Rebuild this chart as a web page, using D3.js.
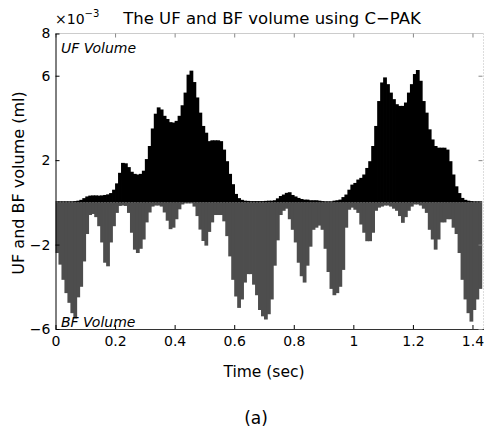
<!DOCTYPE html>
<html>
<head>
<meta charset="utf-8">
<script src="https://cdn.jsdelivr.net/npm/d3@7"></script>
<style>
  body { margin: 0; background: #fff; }
  text { font-family: "DejaVu Sans", sans-serif; fill: #000; }
</style>
</head>
<body>
<div id="chart"></div>
<script>
// time of each bar (sec)
var times = [
  0.00,0.01,0.02,0.03,0.04,0.05,0.06,0.07,0.08,0.09,
  0.10,0.11,0.12,0.13,0.14,0.15,0.16,0.17,0.18,0.19,
  0.20,0.21,0.22,0.23,0.24,0.25,0.26,0.27,0.28,0.29,
  0.30,0.31,0.32,0.33,0.34,0.35,0.36,0.37,0.38,0.39,
  0.40,0.41,0.42,0.43,0.44,0.45,0.46,0.47,0.48,0.49,
  0.50,0.51,0.52,0.53,0.54,0.55,0.56,0.57,0.58,0.59,
  0.60,0.61,0.62,0.63,0.64,0.65,0.66,0.67,0.68,0.69,
  0.70,0.71,0.72,0.73,0.74,0.75,0.76,0.77,0.78,0.79,
  0.80,0.81,0.82,0.83,0.84,0.85,0.86,0.87,0.88,0.89,
  0.90,0.91,0.92,0.93,0.94,0.95,0.96,0.97,0.98,0.99,
  1.00,1.01,1.02,1.03,1.04,1.05,1.06,1.07,1.08,1.09,
  1.10,1.11,1.12,1.13,1.14,1.15,1.16,1.17,1.18,1.19,
  1.20,1.21,1.22,1.23,1.24,1.25,1.26,1.27,1.28,1.29,
  1.30,1.31,1.32,1.33,1.34,1.35,1.36,1.37,1.38,1.39,
  1.40,1.41,1.42
];

// UF volume (x10^-3 ml)
var ufVolume = [
  0.05,0.05,0.05,0.05,0.05,0.05,0.06,0.08,0.12,0.2,
  0.28,0.32,0.33,0.33,0.32,0.33,0.35,0.38,0.44,0.6,
  0.9,1.4,1.87,1.85,1.67,1.45,1.35,1.32,1.35,1.5,
  2.05,2.67,3.5,4.2,4.5,4.4,4.1,3.95,3.8,3.78,
  3.86,4.1,4.6,5.2,6.05,6.24,5.7,4.97,4.25,3.62,
  3.3,2.9,2.94,2.94,2.94,2.9,2.5,1.95,1.35,0.86,
  0.4,0.2,0.12,0.08,0.07,0.06,0.06,0.06,0.06,0.06,
  0.07,0.08,0.08,0.1,0.19,0.3,0.37,0.45,0.48,0.35,
  0.28,0.21,0.16,0.13,0.13,0.1,0.1,0.1,0.08,0.06,
  0.05,0.05,0.05,0.08,0.1,0.13,0.25,0.37,0.6,0.84,
  0.92,1.08,1.16,1.32,1.63,1.95,2.67,3.62,4.8,5.68,
  5.92,5.6,5.2,4.89,4.65,4.57,4.57,4.73,5.2,5.6,
  6.08,6.27,5.76,4.8,4.25,3.46,2.98,2.67,2.59,2.59,
  2.59,2.5,1.95,1.32,0.76,0.44,0.21,0.12,0.08,0.06,
  0.05,0.05,0.05
];

// BF volume (x10^-3 ml)
var bfVolume = [
  -2.4,-2.95,-3.67,-4.3,-4.76,-5.25,-5.5,-4.5,-4.0,-2.8,
  -1.5,-0.6,-0.55,-0.7,-1.13,-1.9,-2.86,-3.03,-1.9,-1.13,
  -0.5,-0.17,-0.15,-0.17,-0.5,-1.44,-2.24,-2.4,-2.2,-1.76,
  -0.95,-0.48,-0.2,-0.15,-0.15,-0.2,-0.48,-0.87,-1.27,-1.2,
  -0.8,-0.33,-0.1,-0.05,-0.05,-0.05,-0.2,-0.65,-1.29,-1.83,
  -2.05,-1.4,-0.95,-0.6,-0.6,-0.6,-0.9,-1.6,-2.56,-3.67,
  -4.46,-5.0,-4.6,-3.8,-3.4,-3.4,-3.9,-4.4,-5.1,-5.4,
  -5.55,-5.3,-4.6,-3.0,-1.8,-0.6,-0.4,-0.3,-0.8,-1.3,
  -1.9,-2.86,-3.5,-3.8,-3.0,-2.1,-1.3,-1.2,-1.1,-1.3,
  -2.2,-3.3,-4.1,-4.4,-4.3,-4.0,-3.2,-1.2,-0.35,-0.25,
  -0.35,-0.5,-1.05,-1.44,-1.84,-1.84,-1.44,-0.4,-0.25,-0.2,
  -0.15,-0.15,-0.2,-0.3,-0.4,-0.65,-0.97,-0.7,-0.4,-0.2,
  -0.1,-0.1,-0.15,-0.3,-0.5,-1.3,-1.76,-2.24,-1.76,-0.95,
  -0.95,-0.8,-0.8,-1.2,-1.5,-2.4,-3.67,-4.6,-5.25,-5.65,
  -5.1,-4.6,-4.1
];

var xTicks = [0, 0.2, 0.4, 0.6, 0.8, 1, 1.2, 1.4];
var yTicks = [-6, -2, 2, 6, 8];
var barStep = 0.01;

var svgWidth = 484;
var svgHeight = 432;

var svg = d3.select("#chart").append("svg")
  .attr("width", svgWidth)
  .attr("height", svgHeight);

var xMax = 1.437;
var xScale = d3.scaleLinear().domain([0, xMax]).range([55.5, 483.5]);
var yScale = d3.scaleLinear().domain([-6, 8]).range([329, 33.5]);

var data = times.map(function(t, i) {
  return { t: t, uf: ufVolume[i], bf: bfVolume[i] };
});

var bw = xScale(barStep) - xScale(0);

// BF bars (gray, below zero)
svg.append("g").selectAll("rect")
  .data(data)
  .enter()
  .append("rect")
  .attr("x", d => xScale(d.t))
  .attr("width", bw + 0.8)
  .attr("y", yScale(0))
  .attr("height", d => yScale(d.bf) - yScale(0))
  .attr("fill", "#4d4d4d");

// UF bars (black, above zero)
svg.append("g").selectAll("rect")
  .data(data)
  .enter()
  .append("rect")
  .attr("x", d => xScale(d.t))
  .attr("width", bw + 0.8)
  .attr("y", d => yScale(d.uf))
  .attr("height", d => yScale(0) - yScale(d.uf))
  .attr("fill", "#000");

// box: top and right light
svg.append("line")
  .attr("x1", xScale(0)).attr("x2", 483.5)
  .attr("y1", 33.5).attr("y2", 33.5)
  .attr("stroke", "#999").attr("stroke-dasharray", "1,1");
svg.append("line")
  .attr("x1", 483.5).attr("x2", 483.5)
  .attr("y1", 33.5).attr("y2", 329)
  .attr("stroke", "#bbb").attr("stroke-dasharray", "1,2");

var fmtX = d => String(+d.toFixed(1));

var xAxis = d3.axisBottom(xScale)
  .tickValues(xTicks)
  .tickFormat(fmtX)
  .tickSizeInner(-4)
  .tickSizeOuter(0)
  .tickPadding(7);
var gx = svg.append("g")
  .attr("transform", "translate(0," + yScale(-6) + ")")
  .call(xAxis);
gx.select(".domain").attr("stroke", "#333");
gx.selectAll("text").style("font-size", "14px");

var gxTop = svg.append("g")
  .attr("transform", "translate(0," + yScale(8) + ")")
  .call(d3.axisTop(xScale).tickValues(xTicks).tickSizeInner(-4).tickSizeOuter(0).tickFormat(""));
gxTop.select(".domain").remove();
gxTop.selectAll("line").attr("stroke", "#888");

var yAxis = d3.axisLeft(yScale)
  .tickValues(yTicks)
  .tickSizeInner(-4)
  .tickSizeOuter(0)
  .tickPadding(5);
var gy = svg.append("g")
  .attr("transform", "translate(" + xScale(0) + ",0)")
  .call(yAxis);
gy.select(".domain").attr("stroke", "#000");
gy.selectAll("text").style("font-size", "14px");

var gyRight = svg.append("g")
  .attr("transform", "translate(" + (xScale(xMax) - 1) + ",0)")
  .call(d3.axisRight(yScale).tickValues([-6, -2, 2, 6]).tickSizeInner(-4).tickSizeOuter(0).tickFormat(""));
gyRight.select(".domain").remove();
gyRight.selectAll("line").attr("stroke", "#888");

// exponent
var expo = svg.append("text")
  .attr("x", 55)
  .attr("y", 24)
  .style("font-size", "14px")
  .text("×10");
expo.append("tspan")
  .attr("dy", -7)
  .style("font-size", "10px")
  .text("−3");

// title
svg.append("text")
  .attr("x", 272)
  .attr("y", 24)
  .attr("text-anchor", "middle")
  .style("font-size", "16.5px")
  .text("The UF and BF volume using C−PAK");

// inside labels
svg.append("text")
  .attr("x", 61)
  .attr("y", 53)
  .style("font-size", "14px")
  .style("font-style", "italic")
  .text("UF Volume");
svg.append("text")
  .attr("x", 61)
  .attr("y", 327)
  .style("font-size", "14px")
  .style("font-style", "italic")
  .text("BF Volume");

// axis titles
svg.append("text")
  .attr("transform", "translate(24,183) rotate(-90)")
  .attr("text-anchor", "middle")
  .style("font-size", "16px")
  .text("UF and BF volume (ml)");

svg.append("text")
  .attr("x", 264)
  .attr("y", 377)
  .attr("text-anchor", "middle")
  .style("font-size", "15.5px")
  .text("Time (sec)");

svg.append("text")
  .attr("x", 256)
  .attr("y", 424)
  .attr("text-anchor", "middle")
  .style("font-size", "17px")
  .text("(a)");
</script>
</body>
</html>
